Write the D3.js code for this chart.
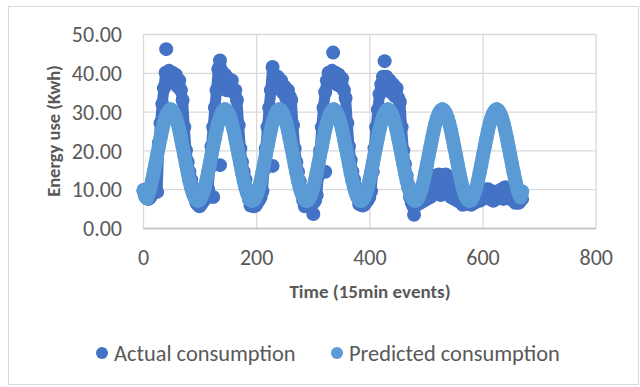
<!DOCTYPE html>
<html>
<head>
<meta charset="utf-8">
<script src="https://cdn.jsdelivr.net/npm/d3@7/dist/d3.min.js"></script>
<style>
    body { margin: 0; background: #fff; }
    text { font-family: Calibri, Carlito, Lato, sans-serif; }
</style>
</head>
<body>
<div id="chart"></div>
<script>
// events are 15 min apart, one value kept every 3rd event starting at event 1
const firstEvent = 1;
const eventStep = 3;

// Actual consumption (Kwh), 32 values per day
const actual = [
    // day 1
    9.8, 9.0, 8.0, 7.5, 8.0, 8.8, 9.2, 9.5, 9.3, 22.0, 27.0, 32.0, 36.0, 40.0, 38.0, 40.5,
    37.5, 40.0, 38.0, 39.5, 36.5, 38.0, 35.5, 33.0, 26.0, 20.0, 17.0, 14.5, 12.5, 10.5, 8.5, 6.5,
    // day 2
    6.0, 5.6, 6.2, 6.8, 7.4, 8.2, 10.0, 15.5, 21.0, 26.0, 31.0, 35.5, 41.0, 43.2, 40.5, 37.0,
    39.5, 35.5, 38.5, 36.0, 38.0, 35.0, 35.5, 33.0, 26.5, 20.5, 17.0, 14.5, 12.5, 10.0, 7.5, 5.8,
    // day 3
    6.0, 5.6, 5.8, 6.5, 7.2, 8.0, 9.5, 15.0, 20.5, 26.0, 31.0, 35.5, 41.5, 39.5, 37.0, 39.0,
    36.0, 38.0, 35.0, 36.5, 33.5, 35.5, 34.0, 33.0, 26.5, 20.5, 17.0, 14.5, 12.0, 10.0, 7.2, 5.6,
    // day 4
    6.0, 6.3, 5.8, 6.0, 6.5, 7.0, 8.5, 13.5, 20.0, 26.0, 31.0, 35.0, 38.0, 40.0, 37.5, 40.5,
    38.0, 40.0, 37.0, 39.5, 36.5, 38.5, 35.5, 33.5, 27.0, 21.0, 17.5, 14.5, 12.5, 10.5, 8.0, 6.2,
    // day 5
    6.0, 5.8, 6.0, 6.6, 7.2, 8.0, 9.5, 14.5, 20.5, 26.0, 30.5, 34.5, 37.0, 39.0, 37.0, 39.0,
    36.0, 38.0, 35.0, 37.0, 34.0, 36.0, 33.5, 32.5, 26.0, 20.0, 16.5, 13.5, 11.0, 8.0, 6.5, 5.5,
    // day 6
    6.5, 6.0, 7.0, 6.5, 7.5, 7.0, 8.5, 7.5, 10.0, 8.0, 12.0, 9.0, 13.5, 10.0, 13.8, 8.5,
    13.5, 9.5, 13.8, 10.5, 13.2, 8.0, 12.5, 7.5, 10.5, 7.0, 8.0, 6.5, 6.0, 6.5, 6.8, 6.2,
    // day 7
    6.5, 6.0, 7.0, 6.5, 7.5, 9.0, 7.0, 9.5, 7.5, 10.0, 8.0, 10.0, 7.5, 9.5, 7.0, 9.0,
    7.5, 9.5, 8.0, 10.0, 7.5, 10.5, 8.0, 10.0, 7.5, 9.0, 7.0, 6.5, 6.8, 6.5, 7.0, 7.5
];

// actual events that sit away from the main trail: [event, Kwh]
const actualOutliers = [
    [41, 46.1], [124, 8.0], [136, 16.2], [229, 16.0],
    [301, 3.6], [322, 14.5], [336, 45.2], [427, 43.0], [479, 3.4]
];

// Predicted consumption (Kwh), 32 values per day
const predicted = [
    // day 1
    9.6, 8.1, 7.6, 9.0, 10.4, 12.2, 14.3, 16.5, 18.8, 21.0, 23.2, 25.3, 27.1, 28.5, 29.6, 30.3,
    30.6, 30.3, 29.6, 28.5, 27.1, 25.3, 23.2, 21.0, 18.8, 16.5, 14.3, 12.2, 10.4, 9.0, 7.9, 7.2,
    // day 2
    7.0, 7.2, 7.9, 9.0, 10.4, 12.2, 14.3, 16.5, 18.8, 21.0, 23.2, 25.3, 27.1, 28.5, 29.6, 30.3,
    30.6, 30.3, 29.6, 28.5, 27.1, 25.3, 23.2, 21.0, 18.8, 16.5, 14.3, 12.2, 10.4, 9.0, 7.9, 7.2,
    // day 3
    7.0, 7.2, 7.9, 9.0, 10.4, 12.2, 14.3, 16.5, 18.8, 21.0, 23.2, 25.3, 27.1, 28.5, 29.6, 30.3,
    30.6, 30.3, 29.6, 28.5, 27.1, 25.3, 23.2, 21.0, 18.8, 16.5, 14.3, 12.2, 10.4, 9.0, 7.9, 7.2,
    // day 4
    7.0, 7.2, 7.9, 9.0, 10.4, 12.2, 14.3, 16.5, 18.8, 21.0, 23.2, 25.3, 27.1, 28.5, 29.6, 30.3,
    30.6, 30.3, 29.6, 28.5, 27.1, 25.3, 23.2, 21.0, 18.8, 16.5, 14.3, 12.2, 10.4, 9.0, 7.9, 7.2,
    // day 5
    7.0, 7.2, 7.9, 9.0, 10.4, 12.2, 14.3, 16.5, 18.8, 21.0, 23.2, 25.3, 27.1, 28.5, 29.6, 30.3,
    30.6, 30.3, 29.6, 28.5, 27.1, 25.3, 23.2, 21.0, 18.8, 16.5, 14.3, 12.2, 10.4, 9.0, 7.9, 7.2,
    // day 6
    7.0, 7.2, 7.9, 9.0, 10.4, 12.2, 14.3, 16.5, 18.8, 21.0, 23.2, 25.3, 27.1, 28.5, 29.6, 30.3,
    30.6, 30.3, 29.6, 28.5, 27.1, 25.3, 23.2, 21.0, 18.8, 16.5, 14.3, 12.2, 10.4, 9.0, 7.9, 7.2,
    // day 7
    7.0, 7.2, 7.9, 9.0, 10.4, 12.2, 14.3, 16.5, 18.8, 21.0, 23.2, 25.3, 27.1, 28.5, 29.6, 30.3,
    30.6, 30.3, 29.6, 28.5, 27.1, 25.3, 23.2, 21.0, 18.8, 16.5, 14.3, 12.2, 10.4, 9.0, 7.9, 9.4
];

const xTicks = [0, 200, 400, 600, 800];
const yTicks = [0, 10, 20, 30, 40, 50];
const seriesNames = ["Actual consumption", "Predicted consumption"];
const seriesColors = ["#4472C4", "#5B9BD5"];

function ScatterChart() {
    const width = 640;
    const height = 387;
    const plot = { left: 143, right: 595.7, top: 34, bottom: 228 };
    const markerRadius = 7;

    const svg = d3.select("#chart")
        .append("svg")
        .attr("width", width)
        .attr("height", height);

    // chart border
    svg.append("rect")
        .attr("x", 8.5).attr("y", 6.5)
        .attr("width", 630).attr("height", 378)
        .attr("fill", "#fff")
        .attr("stroke", "#d9d9d9");

    const x = d3.scaleLinear().domain([0, 800]).range([plot.left, plot.right]);
    const y = d3.scaleLinear().domain([0, 50]).range([plot.bottom, plot.top]);

    // gridlines
    svg.append("g")
        .attr("transform", `translate(0,${plot.bottom})`)
        .call(d3.axisBottom(x).tickValues(xTicks).tickSize(plot.top - plot.bottom).tickFormat(""))
        .call(g => g.select(".domain").remove())
        .call(g => g.selectAll("line").attr("stroke", "#d9d9d9").attr("stroke-width", 1.3));
    svg.append("g")
        .attr("transform", `translate(${plot.left},0)`)
        .call(d3.axisLeft(y).tickValues(yTicks).tickSize(plot.left - plot.right).tickFormat(""))
        .call(g => g.select(".domain").remove())
        .call(g => g.selectAll("line").attr("stroke", "#d9d9d9").attr("stroke-width", 1.3));

    // tick labels
    const yAxis = svg.append("g")
        .attr("transform", `translate(${plot.left},0)`)
        .call(d3.axisLeft(y).tickValues(yTicks).tickSize(0).tickPadding(21).tickFormat(d3.format(".2f")));
    const xAxis = svg.append("g")
        .attr("transform", `translate(0,${plot.bottom})`)
        .call(d3.axisBottom(x).tickValues(xTicks).tickSize(0));
    yAxis.select(".domain").remove();
    xAxis.select(".domain").attr("stroke", "#bfbfbf").attr("stroke-width", 1.5);
    xAxis.selectAll("text").attr("y", 29).attr("dy", "0.35em");
    yAxis.selectAll("text").attr("dy", "0.35em");
    svg.selectAll(".tick text")
        .attr("fill", "#595959")
        .attr("font-size", "22px");

    // axis titles
    svg.append("text")
        .attr("transform", "translate(54,131) rotate(-90)")
        .attr("text-anchor", "middle")
        .attr("dy", "0.35em")
        .attr("font-size", "18.5px")
        .attr("font-weight", "bold")
        .attr("fill", "#595959")
        .text("Energy use (Kwh)");
    svg.append("text")
        .attr("x", 370)
        .attr("y", 291)
        .attr("text-anchor", "middle")
        .attr("dy", "0.35em")
        .attr("font-size", "19px")
        .attr("font-weight", "bold")
        .attr("fill", "#595959")
        .text("Time (15min events)");

    // dense markers overlap into a band, so join the kept events with a marker-wide stroke
    const trail = d3.line()
        .x((d, i) => x(firstEvent + i * eventStep))
        .y(d => y(d));

    // actual first so predicted sits on top
    [actual, predicted].forEach((values, s) => {
        const g = svg.append("g").attr("fill", seriesColors[s]);
        g.append("path")
            .attr("d", trail(values))
            .attr("fill", "none")
            .attr("stroke", seriesColors[s])
            .attr("stroke-width", s === 0 ? 11 : markerRadius * 2)
            .attr("stroke-linecap", "round")
            .attr("stroke-linejoin", "round");
        g.selectAll("circle")
            .data(values)
            .join("circle")
            .attr("cx", (d, i) => x(firstEvent + i * eventStep))
            .attr("cy", d => y(d))
            .attr("r", markerRadius);
        if (s === 0) {
            g.selectAll("circle.outlier")
                .data(actualOutliers)
                .join("circle")
                .attr("class", "outlier")
                .attr("cx", d => x(d[0]))
                .attr("cy", d => y(d[1]))
                .attr("r", markerRadius);
        }
    });

    // legend
    const legendX = [102, 337];
    const legend = svg.append("g")
        .selectAll("g")
        .data(seriesNames)
        .join("g")
        .attr("transform", (d, i) => `translate(${legendX[i]},353)`);
    legend.append("circle")
        .attr("r", 6)
        .attr("fill", (d, i) => seriesColors[i]);
    legend.append("text")
        .attr("x", 12)
        .attr("dy", "0.35em")
        .attr("font-size", "22.4px")
        .attr("fill", "#595959")
        .text(d => d);
}

ScatterChart();
</script>
</body>
</html>
